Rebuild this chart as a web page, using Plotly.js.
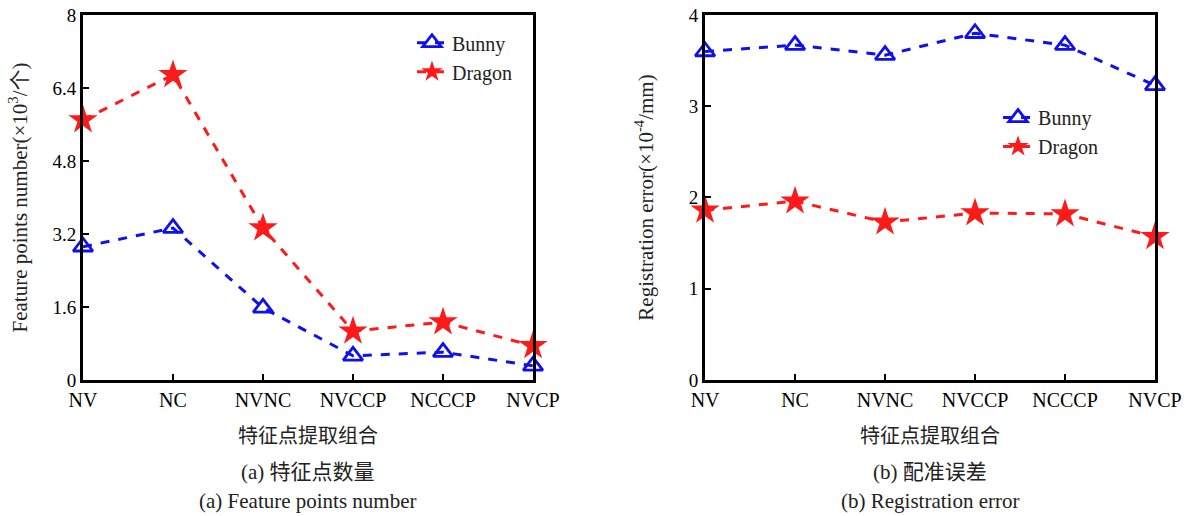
<!DOCTYPE html>
<html><head><meta charset="utf-8">
<script src="https://cdn.plot.ly/plotly-3.0.1.min.js"></script>
<style>html,body{margin:0;padding:0;background:#fff}#c{width:1189px;height:516px}</style>
</head><body><div id="c"></div>
<script>
const categories = ["NV","NC","NVNC","NVCCP","NCCCP","NVCP"];
const bunnyPoints = [2.92,3.33,1.58,0.53,0.61,0.31];
const dragonPoints = [5.70,6.69,3.33,1.07,1.27,0.75];
const bunnyError = [3.60,3.67,3.56,3.80,3.67,3.23];
const dragonError = [1.86,1.96,1.73,1.83,1.82,1.57];
const yTicksLeft = [0,1.6,3.2,4.8,6.4,8];
const yTicksRight = [0,1,2,3,4];

const F = "Liberation Serif, Times New Roman, Noto Sans CJK SC, serif";
const blue = "#1010ee", red = "#ff1a1a";
function bunny(y, xa, ya, lg){
  return {x:categories, y:y, xaxis:xa, yaxis:ya, legend:lg, name:"Bunny", showlegend:true,
    mode:"lines+markers", cliponaxis:false,
    line:{color:blue, width:3, dash:"dash"},
    marker:{symbol:"triangle-up-open", size:17, color:blue, line:{width:2.8, color:blue}}};
}
function dragon(y, xa, ya, lg){
  return {x:categories, y:y, xaxis:xa, yaxis:ya, legend:lg, name:"Dragon", showlegend:true,
    mode:"lines+markers", cliponaxis:false,
    line:{color:red, width:3, dash:"dash"},
    marker:{symbol:"star", size:22, color:red, line:{width:0}}};
}
const data = [
  bunny(bunnyPoints,"x","y","legend"),
  dragon(dragonPoints,"x","y","legend"),
  bunny(bunnyError,"x2","y2","legend2"),
  dragon(dragonError,"x2","y2","legend2")
];
const xax = {type:"category", range:[0,5], showline:true, mirror:true, linewidth:3, linecolor:"#000",
  ticks:"inside", ticklen:6, tickwidth:2, tickcolor:"#000", showgrid:false, zeroline:false,
  tickfont:{family:F, size:20, color:"#000"},
  title:{text:"特征点提取组合", font:{family:"Noto Sans CJK SC", size:20, color:"#222"}, standoff:20}};
const yax = {showline:true, mirror:true, linewidth:3, linecolor:"#000", ticks:"inside", ticklen:6, tickwidth:2,
  tickcolor:"#000", showgrid:false, zeroline:false, tickfont:{family:F, size:19, color:"#000"}};
const capFont = {family:F, size:21, color:"#222"};
const layout = {
  width:1189, height:516, margin:{l:0,r:0,t:0,b:0}, paper_bgcolor:"#fff", plot_bgcolor:"#fff",
  font:{family:F, color:"#000"},
  xaxis:Object.assign({}, xax, {domain:[0.0698,0.4483], anchor:"y"}),
  xaxis2:Object.assign({}, xax, {domain:[0.593,0.9714], anchor:"y2"}),
  yaxis:Object.assign({}, yax, {domain:[0.2636,0.9709], anchor:"x", range:[0,8], tickvals:yTicksLeft,
    ticktext:yTicksLeft.map(String),
    title:{text:"Feature points number(×10<sup>3</sup>/个)", font:{family:F, size:21, color:"#222"}, standoff:20}}),
  yaxis2:Object.assign({}, yax, {domain:[0.2636,0.9709], anchor:"x2", range:[0,4], tickvals:yTicksRight,
    ticktext:yTicksRight.map(String),
    title:{text:"Registration error(×10<sup>-4</sup>/mm)", font:{family:F, size:21, color:"#222"}, standoff:30}}),
  legend:{x:0.3465, y:0.955, xanchor:"left", yanchor:"top", bgcolor:"rgba(0,0,0,0)",
    font:{family:F, size:20, color:"#222"}, tracegroupgap:0, itemwidth:30},
  legend2:{x:0.8394, y:0.81, xanchor:"left", yanchor:"top", bgcolor:"rgba(0,0,0,0)",
    font:{family:F, size:20, color:"#222"}, tracegroupgap:0, itemwidth:30},
  annotations:[
    {text:"(a) 特征点数量", xref:"paper", yref:"paper", x:0.2590, y:1-472/516, xanchor:"center", yanchor:"middle",
      showarrow:false, font:capFont},
    {text:"(a) Feature points number", xref:"paper", yref:"paper", x:0.2590, y:1-501/516, xanchor:"center",
      yanchor:"middle", showarrow:false, font:capFont},
    {text:"(b) 配准误差", xref:"paper", yref:"paper", x:0.7822, y:1-472/516, xanchor:"center", yanchor:"middle",
      showarrow:false, font:capFont},
    {text:"(b) Registration error", xref:"paper", yref:"paper", x:0.7822, y:1-501/516, xanchor:"center",
      yanchor:"middle", showarrow:false, font:capFont}
  ]
};
Plotly.newPlot("c", data, layout, {displayModeBar:false, staticPlot:true});
</script></body></html>
